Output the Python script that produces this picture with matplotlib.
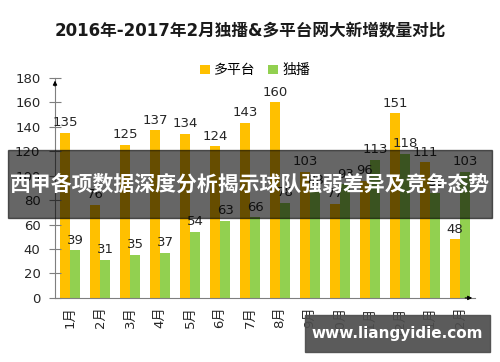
import numpy as np
import matplotlib
matplotlib.use("Agg")
import matplotlib.pyplot as plt
from matplotlib.patches import Rectangle

plt.rcParams['font.family'] = ['DejaVu Sans', 'Noto Sans CJK SC']

months = ['1月', '2月', '3月', '4月', '5月', '6月', '7月', '8月',
          '9月', '10月', '11月', '12月', '1月', '2月']
multi = [135, 76, 125, 137, 134, 124, 143, 160, 103, 77, 96, 151, 111, 48]
exclusive = [39, 31, 35, 37, 54, 63, 66, 78, 88, 93, 113, 118, 86, 103]
yticks = [0, 20, 40, 60, 80, 100, 120, 140, 160, 180]

c_multi = '#FFC000'
c_excl = '#92D050'
axis_c = '#7f7f7f'

fig = plt.figure(figsize=(5, 3.62), dpi=100)
ax = fig.add_axes([0.11, 0.177, 0.84, 0.608])

x = np.arange(len(months))
w = 0.32
b1 = ax.bar(x - w / 2 - 0.01, multi, w, color=c_multi, label='多平台')
b2 = ax.bar(x + w / 2 + 0.01, exclusive, w, color=c_excl, label='独播')

for bars in (b1, b2):
    for r in bars:
        ax.text(r.get_x() + r.get_width() / 2, r.get_height() + 3,
                str(int(r.get_height())), ha='center', va='bottom',
                fontsize=9.5, color='#262626')

ax.set_xlim(-0.5, len(months) - 0.5)
ax.set_ylim(0, 180)
ax.set_yticks(yticks)
ax.set_xticks(x)
ax.set_xticklabels(months, rotation=90, fontsize=9.5, color='#262626')
ax.tick_params(axis='y', direction='inout', length=9, color=axis_c,
               labelsize=9.5, labelcolor='#262626', pad=6)
ax.tick_params(axis='x', length=0, pad=6)
for s in ('top', 'right'):
    ax.spines[s].set_visible(False)
for s in ('left', 'bottom'):
    ax.spines[s].set_color(axis_c)
    ax.spines[s].set_linewidth(0.8)

# axis arrows
ax.annotate('', xy=(0, 1.0), xycoords='axes fraction', xytext=(0, 0.95),
            arrowprops=dict(arrowstyle='-|>', color='black', lw=0.8,
                            mutation_scale=6))
ax.annotate('', xy=(1.0, 0), xycoords='axes fraction', xytext=(0.97, 0),
            arrowprops=dict(arrowstyle='-|>', color='black', lw=0.8,
                            mutation_scale=6))

fig.text(0.5, 0.917, '2016年-2017年2月独播&多平台网大新增数量对比',
         ha='center', va='center', fontsize=12, fontweight='bold',
         color='#1a1a1a')

fig.legend(handles=[b1, b2], loc='center', bbox_to_anchor=(0.51, 0.806),
           ncol=2, frameon=False, fontsize=10, handlelength=0.7,
           handleheight=0.7, handletextpad=0.3, columnspacing=0.9)

# overlay banner
fig.patches.append(Rectangle((0.016, 0.398), 0.968, 0.188,
                             transform=fig.transFigure, color='black',
                             alpha=0.6, zorder=5))
fig.text(0.5, 0.49, '西甲各项数据深度分析揭示球队强弱差异及竞争态势',
         ha='center', va='center', fontsize=15, fontweight='bold',
         color='white', zorder=6, family=['Noto Sans CJK SC'])

# watermark
fig.patches.append(Rectangle((0.61, 0.028), 0.37, 0.102,
                             transform=fig.transFigure, color='#4d4d4d',
                             alpha=0.92, zorder=5))
fig.text(0.795, 0.079, 'www.liangyidie.com', ha='center', va='center',
         fontsize=11, fontweight='bold', color='white', zorder=6)

fig.savefig('out.png', dpi=100)
